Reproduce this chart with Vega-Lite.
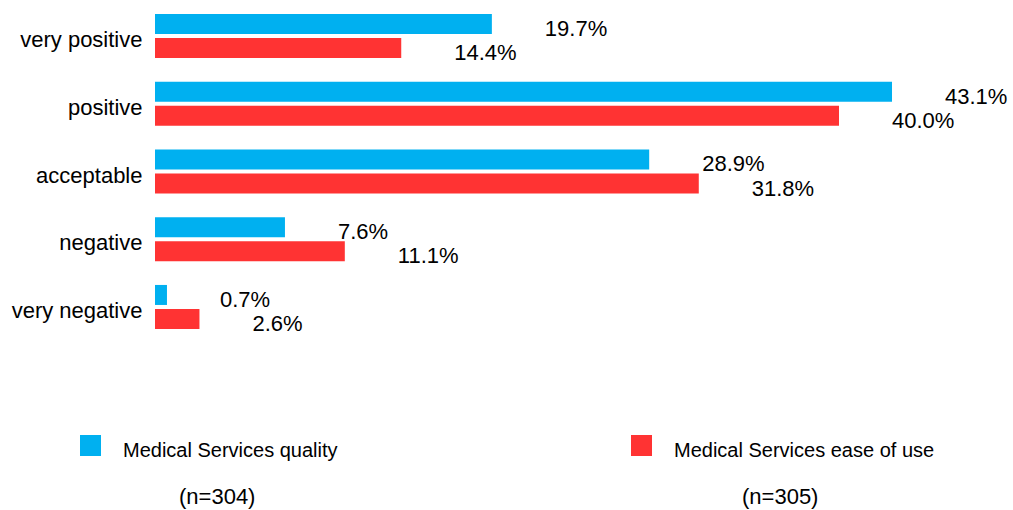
{
  "$schema": "https://vega.github.io/schema/vega-lite/v6.json",
  "width": 855,
  "height": 343,
  "autosize": {"type": "none"},
  "padding": {"left": 155, "top": 0, "right": 3, "bottom": 167},
  "config": {"view": {"stroke": null}, "font": "Liberation Sans"},
  "data": {
    "values": [
      {"category": "very positive", "series": "Medical Services quality", "n": "(n=304)", "value": 0.197},
      {"category": "very positive", "series": "Medical Services ease of use", "n": "(n=305)", "value": 0.144},
      {"category": "positive", "series": "Medical Services quality", "n": "(n=304)", "value": 0.431},
      {"category": "positive", "series": "Medical Services ease of use", "n": "(n=305)", "value": 0.400},
      {"category": "acceptable", "series": "Medical Services quality", "n": "(n=304)", "value": 0.289},
      {"category": "acceptable", "series": "Medical Services ease of use", "n": "(n=305)", "value": 0.318},
      {"category": "negative", "series": "Medical Services quality", "n": "(n=304)", "value": 0.076},
      {"category": "negative", "series": "Medical Services ease of use", "n": "(n=305)", "value": 0.111},
      {"category": "very negative", "series": "Medical Services quality", "n": "(n=304)", "value": 0.007},
      {"category": "very negative", "series": "Medical Services ease of use", "n": "(n=305)", "value": 0.026}
    ]
  },
  "encoding": {
    "y": {
      "field": "category",
      "type": "nominal",
      "sort": ["very positive", "positive", "acceptable", "negative", "very negative"],
      "scale": {"paddingInner": 0.35, "paddingOuter": 0.207},
      "axis": {
        "title": null,
        "domain": false,
        "ticks": false,
        "labelPadding": 13,
        "labelFontSize": 22,
        "labelColor": "#000000",
        "labelOffset": 4,
        "labelLimit": 300
      }
    },
    "yOffset": {
      "field": "series",
      "type": "nominal",
      "sort": ["Medical Services quality", "Medical Services ease of use"],
      "scale": {"paddingInner": 0.167, "paddingOuter": 0}
    },
    "x": {
      "field": "value",
      "type": "quantitative",
      "scale": {"domain": [0, 0.5], "nice": false, "zero": true},
      "axis": null
    }
  },
  "layer": [
    {
      "mark": {"type": "bar"},
      "encoding": {
        "color": {
          "field": "series",
          "type": "nominal",
          "sort": ["Medical Services quality", "Medical Services ease of use"],
          "scale": {
            "domain": ["Medical Services quality", "Medical Services ease of use"],
            "range": ["#00B0F0", "#FF3333"]
          },
          "legend": {
            "orient": "none",
            "legendX": -75,
            "legendY": 440,
            "direction": "horizontal",
            "title": null,
            "padding": 0,
            "symbolType": "M-1,-1.5H1V0.5H-1Z",
            "symbolSize": 441,
            "symbolStrokeWidth": 0,
            "labelFontSize": 20,
            "labelOffset": 22,
            "labelColor": "#000000",
            "labelLimit": 500,
            "columnPadding": 293
          }
        },
        "opacity": {
          "field": "n",
          "type": "ordinal",
          "scale": {"range": [1, 1]},
          "legend": {
            "orient": "none",
            "legendX": 2,
            "legendY": 486,
            "direction": "horizontal",
            "title": null,
            "padding": 0,
            "symbolSize": 0,
            "symbolOpacity": 0,
            "symbolStrokeWidth": 0,
            "labelOffset": 0,
            "labelFontSize": 22,
            "labelColor": "#000000",
            "labelLimit": 500,
            "columnPadding": 464
          }
        }
      }
    },
    {
      "mark": {
        "type": "text",
        "align": "left",
        "baseline": "middle",
        "dx": 53,
        "dy": 5,
        "fontSize": 22,
        "color": "#000000"
      },
      "encoding": {
        "text": {"field": "value", "type": "quantitative", "format": ".1%"}
      }
    }
  ]
}
